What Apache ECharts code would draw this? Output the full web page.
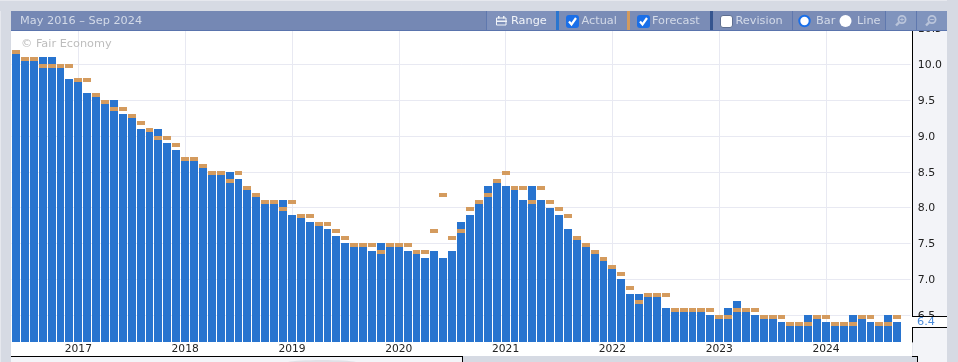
<!DOCTYPE html>
<html><head><meta charset="utf-8">
<style>html,body{margin:0;padding:0;background:#d6dae3;overflow:hidden}#c{width:958px;height:362px}</style>
<script src="https://cdn.jsdelivr.net/npm/echarts@6/dist/echarts.min.js"></script>
</head><body><div id="c"></div>
<script>
const actual = [10.15,10.05,10.05,10.1,10.1,9.95,9.8,9.75,9.6,9.55,9.45,9.5,9.3,9.25,9.1,9.05,9.1,8.9,8.8,8.65,
8.65,8.55,8.45,8.45,8.5,8.4,8.25,8.15,8.05,8.05,8.1,7.9,7.85,7.8,7.75,7.7,7.6,7.5,7.45,7.45,
7.4,7.5,7.45,7.45,7.4,7.35,7.3,7.4,7.3,7.4,7.8,7.9,8.05,8.3,8.35,8.3,8.25,8.1,8.3,8.1,
8.0,7.9,7.7,7.55,7.45,7.35,7.25,7.15,7.0,6.8,6.8,6.75,6.75,6.6,6.55,6.55,6.55,6.55,6.5,6.45,
6.6,6.7,6.55,6.5,6.45,6.45,6.4,6.35,6.35,6.5,6.45,6.4,6.35,6.35,6.5,6.45,6.4,6.35,6.5,6.4];
const forecast = [10.15,10.05,10.05,9.95,9.95,9.95,9.95,9.75,9.75,9.55,9.45,9.35,9.35,9.25,9.15,9.05,8.95,8.95,8.85,8.65,
8.65,8.55,8.45,8.45,8.35,8.45,8.25,8.15,8.05,8.05,7.95,8.05,7.85,7.85,7.75,7.75,7.65,7.55,7.45,7.45,
7.45,7.35,7.45,7.45,7.45,7.35,7.35,7.65,8.15,7.55,7.65,7.95,8.05,8.15,8.35,8.45,8.25,8.25,8.05,8.25,
8.05,7.95,7.85,7.55,7.45,7.35,7.25,7.15,7.05,6.85,6.65,6.75,6.75,6.75,6.55,6.55,6.55,6.55,6.55,6.45,
6.45,6.55,6.55,6.55,6.45,6.45,6.45,6.35,6.35,6.35,6.45,6.45,6.35,6.35,6.35,6.45,6.45,6.35,6.35,6.45];
const yTicks = [6.5,7.0,7.5,8.0,8.5,9.0,9.5,10.0,10.5];
const monthNames = ['Jan','Feb','Mar','Apr','May','Jun','Jul','Aug','Sep','Oct','Nov','Dec'];
const categories = [];
for (let i = 0; i < actual.length; i++) {
  const m = 5 + i;
  categories.push(monthNames[m % 12] + ' ' + (2016 + Math.floor(m / 12)));
}
categories.push('');
const FONT = '"DejaVu Sans"';
const txtCol = '#d3dae8';
const HEAD = 11.3;
const Y_MIN = 6.125;
const isJan = (i, v) => String(v).startsWith('Jan');

function rect(x, y, w, h, fill, z, extra) {
  return Object.assign({type:'rect', z:z, silent:true, shape:{x,y,width:w,height:h}, style:{fill}}, extra||{});
}
function text(x, y, s, fill, size, z, align) {
  return {type:'text', z:z, silent:true, x, y, style:{text:s, fill, font:size+'px '+FONT, textAlign:align||'left', textVerticalAlign:'middle'}};
}
function check(x) {
  return [
    {type:'rect', z:102, silent:true, shape:{x:x,y:15,width:13,height:13,r:3}, style:{fill:'#1a6fe8'}},
    {type:'polyline', z:103, silent:true, shape:{points:[[x+3,21.5],[x+5.5,24.5],[x+10,18]]}, style:{fill:null,stroke:'#fff',lineWidth:2.2}}
  ];
}
function magnifier(cx, plus) {
  const col = '#b9c4da';
  const a = [
    {type:'circle', z:103, silent:true, shape:{cx:cx+1, cy:19.5, r:3.6}, style:{fill:null, stroke:col, lineWidth:1.8}},
    {type:'line', z:103, silent:true, shape:{x1:cx-2,y1:22.5,x2:cx-5,y2:25.5}, style:{stroke:col, lineWidth:2.4}},
    {type:'line', z:103, silent:true, shape:{x1:cx-0.8,y1:19.5,x2:cx+2.8,y2:19.5}, style:{stroke:col, lineWidth:1}}
  ];
  if (plus) a.push({type:'line', z:103, silent:true, shape:{x1:cx+1,y1:17.7,x2:cx+1,y2:21.3}, style:{stroke:col, lineWidth:1}});
  return a;
}
const graphics = [
  rect(0,0,958,1,'#e6e8ee',-10), rect(0,0,1,362,'#e6e8ee',-10),
  rect(11,31,901,325,'#ffffff',-9),
  rect(912.5,31,34.5,331,'#f3f4f8',-8),
  rect(11,357,451.5,5,'#f3f4f8',100),
  {type:'ellipse', z:101, silent:true, shape:{cx:322,cy:363,rx:36,ry:3}, style:{fill:'#dfe0e6'}},
  rect(11,356,452,1,'#000000',102),
  rect(462,356,1,6,'#000000',102),
  rect(463,356,449,6,'#d6dae3',100),
  rect(912,357,5,5,'#d6dae3',100),
  rect(912,356,6,1,'#000000',102),
  rect(917,356,1,6,'#000000',102),
  rect(912,316,35,12,'#ffffff',100),
  rect(912,316,35,1,'#000000',102),
  rect(912,327,35,1,'#000000',102),
  text(917,322.5,String(actual[actual.length-1]),'#4a8ad8',11.3,103),
  rect(0,0,958,11,'#d6dae3',99),
  rect(0,0,958,1,'#e6e8ee',99),
  rect(947,0,11,362,'#d6dae3',99),
  rect(11,11,936,20,'#7588b4',100),
  rect(11,30,936,1,'#5a74ad',101),
  rect(486,11,70,19,'#7f91bb',101),
  rect(559,11,68,19,'#7a8cb6',101),
  rect(630,11,80,19,'#7a8cb6',101),
  rect(713,11,79,19,'#7a8cb6',101),
  rect(793,11,92,19,'#7a8cb6',101),
  rect(886,11,30,19,'#8094bd',101),
  rect(917,11,30,19,'#8094bd',101),
  rect(556,11,3,19,'#2a76cf',102),
  rect(627,11,3,19,'#d29a5e',102),
  rect(710,11,3,19,'#35558f',102),
  rect(792,11,1,19,'#5f78ae',102),
  rect(885,11,1,19,'#5f78ae',102),
  rect(916,11,1,19,'#5f78ae',102),
  rect(486,11,1,19,'#5f78ae',102),
  text(20,21.5,'May 2016 \u2013 Sep 2024',txtCol,HEAD,103),
  text(511,21.5,'Range','#f0f3f8',HEAD,103),
  text(581.5,21.5,'Actual',txtCol,HEAD,103),
  text(652,21.5,'Forecast',txtCol,HEAD,103),
  text(735.5,21.5,'Revision',txtCol,HEAD,103),
  text(816,21.5,'Bar',txtCol,HEAD,103),
  text(857,21.5,'Line',txtCol,HEAD,103),
  {type:'rect', z:103, silent:true, shape:{x:496.5,y:18,width:9.5,height:7}, style:{fill:null,stroke:'#f0f3f8',lineWidth:1}},
  rect(496,20.5,11,1.5,'#f0f3f8',103), rect(498,16,1.5,2.5,'#f0f3f8',103), rect(503,16,1.5,2.5,'#f0f3f8',103),
  ...check(566), ...check(637),
  {type:'rect', z:102, silent:true, shape:{x:720.5,y:15.5,width:12,height:12,r:2.5}, style:{fill:'#fff',stroke:'#5f6f90',lineWidth:1}},
  {type:'circle', z:102, silent:true, shape:{cx:804.5,cy:21,r:5.2}, style:{fill:'#fff',stroke:'#1a6fe8',lineWidth:2}},
  {type:'circle', z:102, silent:true, shape:{cx:845.5,cy:21,r:6}, style:{fill:'#fff'}},
  ...magnifier(901,true), ...magnifier(931,false),
  text(21,44.5,'\u00a9 Fair Economy','#bdbdbd',11.3,5)
];

function band(api) {
  const p = api.coord([api.value(0), api.value(1)]);
  const step = api.size([1, 0])[0];
  const left = Math.round(p[0] - 4);
  return {p, left, width: Math.round(p[0] - 4 + step) - left - 1};
}
function actualBar(params, api) {
  const b = band(api);
  const base = api.coord([api.value(0), Y_MIN]);
  const top = Math.round(b.p[1]);
  return {type:'rect', shape:{x:b.left, y:top, width:b.width, height:Math.round(base[1])-top},
          style:{fill:'#2874cf'}};
}
function forecastMark(params, api) {
  const b = band(api);
  return {type:'rect', shape:{x:b.left, y:Math.round(b.p[1])-4, width:b.width, height:4},
          style:{fill:'#d49b5e'}};
}

const chart = echarts.init(document.getElementById('c'), null, {renderer:'canvas'});
chart.setOption({
  animation:false,
  backgroundColor:'transparent',
  grid:{left:11.6, top:24.9, width:899, height:317.1, containLabel:false},
  xAxis:{
    type:'category', data:categories, boundaryGap:true,
    axisLine:{show:false},
    axisTick:{show:false, alignWithLabel:true, interval:isJan},
    splitLine:{show:true, alignWithLabel:true, interval:isJan, lineStyle:{color:'#e8e9f2',width:1}},
    axisLabel:{interval:isJan, formatter:v=>v.split(' ')[1], color:'#222', fontFamily:FONT, fontSize:10.7, margin:2, verticalAlign:'top'}
  },
  yAxis:{
    type:'value', position:'right', offset:1.7, min:Y_MIN, max:10.55, scale:true,
    axisLine:{show:true, lineStyle:{color:'#000',width:1}},
    axisTick:{show:false, customValues:yTicks},
    splitLine:{show:true, lineStyle:{color:'#e8e9f2',width:1}},
    axisLabel:{customValues:yTicks, showMaxLabel:true, hideOverlap:false, formatter:v=>v.toFixed(1), color:'#222', fontFamily:FONT, fontSize:10.9, margin:5.5, verticalAlign:'top', lineHeight:2}
  },
  series:[
    {name:'Actual', type:'custom', data:actual.map((v,i)=>[i,v]), encode:{x:0,y:1}, renderItem:actualBar, silent:true, z:2, clip:false},
    {name:'Forecast', type:'custom', data:forecast.map((v,i)=>[i,v]), encode:{x:0,y:1}, renderItem:forecastMark, silent:true, z:3, clip:false}
  ],
  graphic:{elements:graphics}
});
</script></body></html>
